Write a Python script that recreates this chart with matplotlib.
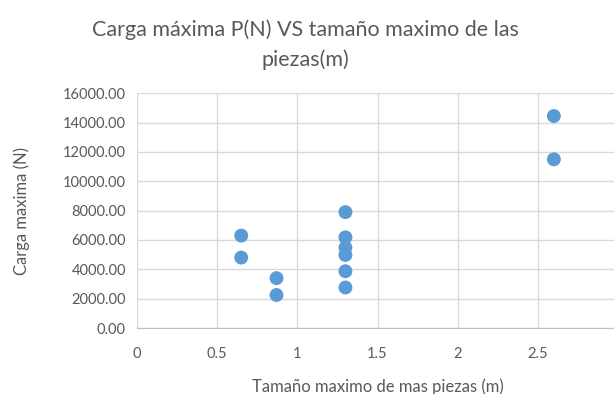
import matplotlib.pyplot as plt
from matplotlib.ticker import FormatStrFormatter

# tamaño maximo de las piezas (m) y carga maxima (N)
tamano = [0.65, 0.65, 0.87, 0.87, 1.3, 1.3, 1.3, 1.3, 1.3, 1.3, 2.6, 2.6]
carga = [6300, 4800, 3400, 2250, 7900, 6180, 5480, 4980, 3870, 2760, 14450, 11500]

x_ticks = [0, 0.5, 1, 1.5, 2, 2.5, 3]
y_ticks = [0, 2000, 4000, 6000, 8000, 10000, 12000, 14000, 16000]

plt.rcParams["font.family"] = ["Lato", "DejaVu Sans"]
text_color = "#595959"
grid_color = "#d9d9d9"

fig = plt.figure(figsize=(6.14, 3.94), dpi=100)
# the axes runs a little past the right edge, so the last gridline is cut off
ax = fig.add_axes([137 / 614, 66 / 394, 481 / 614, 234.7 / 394])

ax.scatter(tamano, carga, s=100, color="#5b9bd5", edgecolors="none", zorder=3)

ax.set_xlim(0, 3)
ax.set_ylim(0, 16000)
ax.set_xticks(x_ticks)
ax.set_yticks(y_ticks)
ax.set_xticklabels(["0", "0.5", "1", "1.5", "2", "2.5", "3"])
ax.yaxis.set_major_formatter(FormatStrFormatter("%.2f"))
ax.grid(True, color=grid_color, linewidth=1)
ax.set_axisbelow(True)

for side in ["top", "right", "left"]:
    ax.spines[side].set_visible(False)
ax.spines["bottom"].set_color("#bfbfbf")
ax.tick_params(axis="y", length=0, labelsize=10.5, colors=text_color, pad=8)
ax.tick_params(axis="x", length=0, labelsize=10.5, colors=text_color, pad=14)

ax.set_xlabel("Tamaño maximo de mas piezas (m)", fontsize=12, color=text_color, labelpad=12)
ax.set_ylabel("Carga maxima (N)", fontsize=12, color=text_color, labelpad=24)

fig.text(0.497, 0.95, "Carga máxima P(N) VS tamaño maximo de las\npiezas(m)",
         ha="center", va="top", fontsize=15.5, color=text_color, linespacing=1.55)

plt.savefig("out.png", dpi=100)
plt.close()
